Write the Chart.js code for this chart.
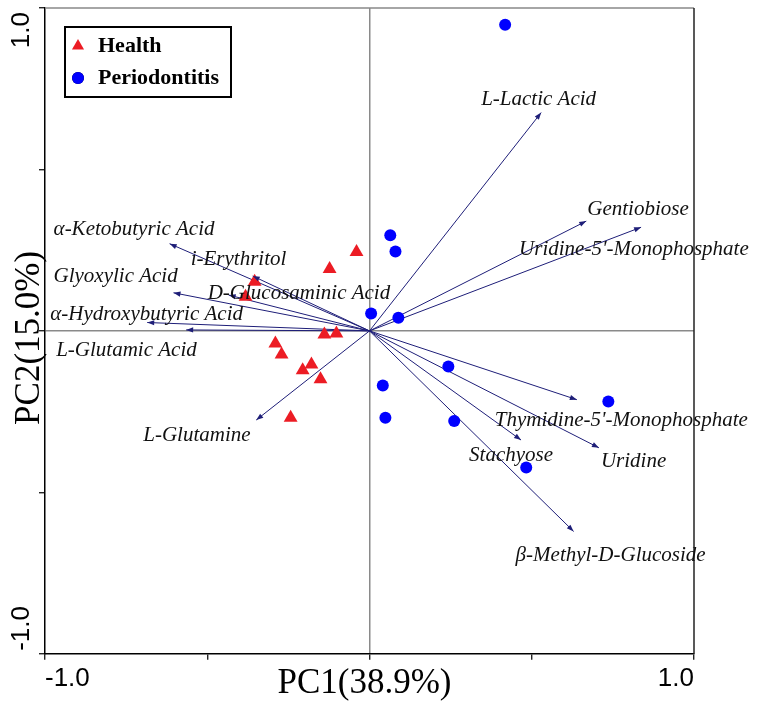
<!DOCTYPE html>
<html>
<head>
<meta charset="utf-8">
<script src="https://cdn.jsdelivr.net/npm/chart.js@4/dist/chart.umd.min.js"></script>
<style>
  html, body { margin: 0; padding: 0; background: #fff; }
  #wrap { width: 759px; height: 703px; }
</style>
</head>
<body>
<div id="wrap"><canvas id="pcaChart" width="759" height="703"></canvas></div>
<script>
// sample scores
const healthX = [-0.040, -0.123, -0.354, -0.382, -0.139, -0.102, -0.290, -0.271, -0.179, -0.206, -0.151, -0.243];
const healthY = [0.244, 0.192, 0.152, 0.106, -0.011, -0.008, -0.039, -0.073, -0.104, -0.122, -0.150, -0.269];
const perioX  = [0.418, 0.064, 0.080, 0.005, 0.089, 0.243, 0.041, 0.049, 0.261, 0.483, 0.736];
const perioY  = [0.948, 0.296, 0.246, 0.054, 0.041, -0.110, -0.169, -0.269, -0.279, -0.423, -0.219];

// loadings (arrow tips)
const vectorNames = ['L-Lactic Acid', 'Gentiobiose', "Uridine-5'-Monophosphate", 'α-Ketobutyric Acid', 'i-Erythritol',
                     'Glyoxylic Acid', 'D-Glucosaminic Acid', 'α-Hydroxybutyric Acid', 'L-Glutamic Acid', 'L-Glutamine',
                     "Thymidine-5'-Monophosphate", 'Uridine', 'Stachyose', 'β-Methyl-D-Glucoside'];
const vectorX = [0.529, 0.668, 0.837, -0.616, -0.360, -0.604, -0.434, -0.685, -0.565, -0.349, 0.639, 0.707, 0.467, 0.629];
const vectorY = [0.676, 0.340, 0.321, 0.270, 0.170, 0.118, 0.111, 0.026, 0.003, -0.276, -0.213, -0.362, -0.338, -0.621];

// label placement relative to arrow tip (px)
const labelOffsets = [[-60, -13], [1, -12], [-122, 22], [-116, -14], [-62, -17], [-120, -16], [-21, -2],
                      [-97, -8], [-130, 21], [-113, 15], [-82, 21], [2, 14], [-52, 15], [-58, 24]];

const axisMin = -1, axisMax = 1, axisStep = 0.5;
const tickText = { '-1': '-1.0', '1': '1.0' };
const xTitle = 'PC1(38.9%)';
const yTitle = 'PC2(15.0%)';

const red = '#ec1c24';
const blue = '#0000ff';
const navy = '#1e1e78';

const ctx = document.getElementById('pcaChart').getContext('2d');

const datasets = [
    {
        label: 'Health',
        data: healthX.map((x, i) => ({ x: x, y: healthY[i] })),
        pointStyle: 'triangle',
        pointRadius: 8,
        backgroundColor: red,
        borderWidth: 0
    },
    {
        label: 'Periodontitis',
        data: perioX.map((x, i) => ({ x: x, y: perioY[i] })),
        pointStyle: 'circle',
        pointRadius: 6,
        backgroundColor: blue,
        borderWidth: 0
    }
];
vectorNames.forEach((name, i) => {
    datasets.push({
        type: 'line',
        label: name,
        isVector: true,
        data: [{ x: 0, y: 0 }, { x: vectorX[i], y: vectorY[i] }],
        borderColor: navy,
        borderWidth: 1,
        pointRadius: 0,
        fill: false,
        tension: 0
    });
});

function gridColor(c) {
    return c.tick && c.tick.value === 0 ? '#8a8a8a' : 'rgba(0,0,0,0)';
}

const pcaDecor = {
    id: 'pcaDecor',
    afterDatasetsDraw(chart) {
        const c = chart.ctx;
        const area = chart.chartArea;
        const xs = chart.scales.x, ys = chart.scales.y;

        // top / right frame
        c.save();
        c.lineWidth = 1.5;
        c.strokeStyle = '#888';
        c.beginPath(); c.moveTo(area.left, area.top); c.lineTo(area.right, area.top); c.stroke();
        c.strokeStyle = '#222';
        c.beginPath(); c.moveTo(area.right, area.top); c.lineTo(area.right, area.bottom); c.stroke();

        // arrow heads + labels
        chart.data.datasets.forEach((ds, i) => {
            if (!ds.isVector) return;
            const k = vectorNames.indexOf(ds.label);
            const pts = chart.getDatasetMeta(i).data;
            const x0 = pts[0].x, y0 = pts[0].y, x1 = pts[1].x, y1 = pts[1].y;
            const ang = Math.atan2(y1 - y0, x1 - x0);
            c.save();
            c.translate(x1, y1);
            c.rotate(ang);
            c.fillStyle = navy;
            c.beginPath();
            c.moveTo(0, 0);
            c.lineTo(-7, -2.6);
            c.lineTo(-7, 2.6);
            c.closePath();
            c.fill();
            c.restore();

            c.font = 'italic 21px "Liberation Serif", "Times New Roman", serif';
            c.fillStyle = '#111';
            c.textAlign = 'left';
            c.textBaseline = 'middle';
            c.fillText(ds.label, x1 + labelOffsets[k][0], y1 + labelOffsets[k][1]);
        });

        // y tick labels (rotated)
        c.fillStyle = '#000';
        c.font = '26px "Liberation Sans", Arial, sans-serif';
        c.textBaseline = 'middle';
        [axisMax, axisMin].forEach(v => {
            const py = ys.getPixelForValue(v);
            c.save();
            c.translate(22, v > 0 ? py + 4 : py - 3);
            c.rotate(-Math.PI / 2);
            c.textAlign = v > 0 ? 'right' : 'left';
            c.fillText(tickText[String(v)], 0, 0);
            c.restore();
        });

        // axis titles
        c.font = '35px "Liberation Serif", "Times New Roman", serif';
        c.textBaseline = 'alphabetic';
        c.textAlign = 'center';
        c.fillText(xTitle, xs.getPixelForValue(0) - 5, 693);
        c.save();
        c.translate(39, ys.getPixelForValue(0) + 7);
        c.rotate(-Math.PI / 2);
        c.fillText(yTitle, 0, 0);
        c.restore();

        // legend box
        const bx = area.left + 20, by = area.top + 19, bw = 166, bh = 70;
        c.fillStyle = '#fff';
        c.fillRect(bx, by, bw, bh);
        c.lineWidth = 2;
        c.strokeStyle = '#000';
        c.strokeRect(bx, by, bw, bh);
        c.font = 'bold 22px "Liberation Serif", "Times New Roman", serif';
        c.textAlign = 'left';
        c.textBaseline = 'middle';
        [0, 1].forEach(j => {
            const ds = chart.data.datasets[j];
            const cy = by + 19 + j * 32;
            Chart.helpers.drawPoint(c, {
                pointStyle: ds.pointStyle,
                radius: j === 0 ? 7 : 6,
                rotation: 0,
                borderWidth: 0
            }, bx + 13, cy);
            c.fillStyle = ds.backgroundColor;
            c.fill();
            c.fillStyle = '#000';
            c.fillText(ds.label, bx + 33, cy);
        });
        c.restore();
    }
};

new Chart(ctx, {
    type: 'scatter',
    data: { datasets: datasets },
    options: {
        responsive: false,
        animation: false,
        events: [],
        layout: { padding: { left: 39, top: 3, right: 65, bottom: 6 } },
        plugins: {
            legend: { display: false },
            tooltip: { enabled: false }
        },
        scales: {
            x: {
                type: 'linear',
                min: axisMin,
                max: axisMax,
                ticks: {
                    stepSize: axisStep,
                    autoSkip: false,
                    maxRotation: 0,
                    align: 'inner',
                    padding: 3,
                    color: '#000',
                    font: { family: '"Liberation Sans", Arial, sans-serif', size: 26 },
                    callback: v => tickText[String(v)] || ''
                },
                grid: { color: gridColor, lineWidth: 1.5, tickColor: '#000', tickLength: 6, tickWidth: 1.2 },
                border: { color: '#000', width: 1.5 }
            },
            y: {
                type: 'linear',
                min: axisMin,
                max: axisMax,
                ticks: { stepSize: axisStep, display: false },
                grid: { color: gridColor, lineWidth: 1.5, tickColor: '#000', tickLength: 6, tickWidth: 1.2 },
                border: { color: '#000', width: 1.5 }
            }
        }
    },
    plugins: [pcaDecor]
});
</script>
</body>
</html>
